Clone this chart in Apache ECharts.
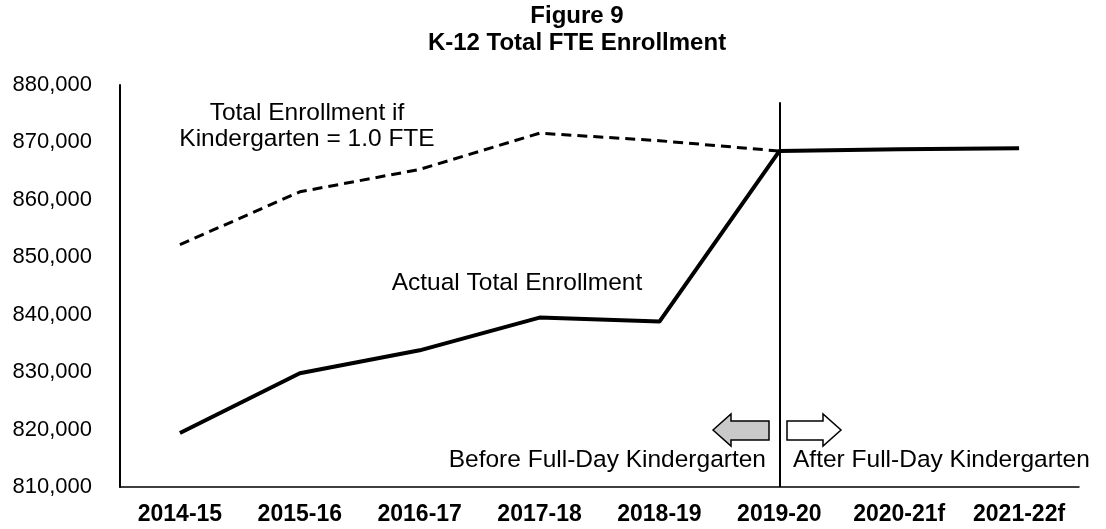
<!DOCTYPE html>
<html>
<head>
<meta charset="utf-8">
<script src="https://cdn.jsdelivr.net/npm/echarts@6/dist/echarts.min.js"></script>
<style>
    html, body { margin: 0; padding: 0; background: #fff; }
    #myChart { width: 1106px; height: 529px; }
</style>
</head>
<body>
<div id="myChart"></div>
<script>
// 学年
var categories = ['2014-15', '2015-16', '2016-17', '2017-18', '2018-19', '2019-20', '2020-21f', '2021-22f']
// 实际总人数 (FTE)
var actualTotal = [819400, 829800, 833800, 839500, 838800, 868500, 868800, 869000]
// 若幼儿园 = 1.0 FTE
var totalIfFullK = [852200, 861400, 865300, 871600, 870300, 868500, null, null]
// y 轴刻度
var yMin = 810000
var yMax = 880000
var yStep = 10000

var font = 'Liberation Sans, Arial, sans-serif'
var noteFont = '24.5px ' + font

// 文字注释
function note(text, x, y, align) {
    return {
        type: 'text',
        x: x,
        y: y,
        style: {
            text: text,
            font: noteFont,
            lineHeight: 26,
            fill: '#000',
            align: align,
            textAlign: align,
            verticalAlign: 'middle',
            textVerticalAlign: 'middle'
        }
    }
}

var myChart = echarts.init(document.getElementById('myChart'))
myChart.setOption({
    animation: false,
    title: {
        text: 'Figure 9\nK-12 Total FTE Enrollment',
        left: 577,
        textAlign: 'center',
        top: 3,
        padding: 0,
        textStyle: {
            fontFamily: font,
            fontWeight: 'bold',
            fontSize: 24,
            lineHeight: 27,
            color: '#000'
        }
    },
    grid: {
        left: 120,
        right: 27,
        top: 85,
        bottom: 42
    },
    xAxis: {
        type: 'category',
        data: categories,
        boundaryGap: true,
        axisTick: { show: false },
        axisLine: { lineStyle: { color: '#000', width: 1.5 } },
        axisLabel: {
            interval: 0,
            margin: 16,
            color: '#000',
            fontFamily: font,
            fontWeight: 'bold',
            fontSize: 23
        }
    },
    yAxis: {
        type: 'value',
        min: yMin,
        max: yMax,
        interval: yStep,
        splitLine: { show: false },
        axisTick: { show: false },
        axisLine: { show: true, lineStyle: { color: '#000', width: 2 } },
        axisLabel: {
            margin: 28,
            color: '#000',
            fontFamily: font,
            fontSize: 22,
            formatter: function (v) {
                return v.toLocaleString('en-US')
            }
        }
    },
    series: [
        {
            name: 'Total Enrollment if Kindergarten = 1.0 FTE',
            type: 'line',
            data: totalIfFullK,
            symbol: 'none',
            lineStyle: { color: '#000', width: 3, type: [10, 6] }
        },
        {
            name: 'Actual Total Enrollment',
            type: 'line',
            data: actualTotal,
            symbol: 'none',
            z: 3,
            lineStyle: { color: '#000', width: 4 },
            // 全日制幼儿园分界线
            markLine: {
                silent: true,
                symbol: 'none',
                label: { show: false },
                lineStyle: { color: '#000', width: 2, type: 'solid' },
                data: [[
                    { coord: ['2019-20', 877000] },
                    { coord: ['2019-20', yMin] }
                ]]
            }
        }
    ],
    graphic: [
        note('Total Enrollment if\nKindergarten = 1.0 FTE', 307, 126, 'center'),
        note('Actual Total Enrollment', 517, 283, 'center'),
        note('Before Full-Day Kindergarten', 766, 460, 'right'),
        note('After Full-Day Kindergarten', 793, 460, 'left'),
        // 左箭头 (灰色)
        {
            type: 'polygon',
            shape: {
                points: [[713, 430], [731, 414], [731, 421], [769, 421], [769, 440], [731, 440], [731, 446]]
            },
            style: { fill: '#c9c9c9', stroke: '#000', lineWidth: 1.5 }
        },
        // 右箭头 (白色)
        {
            type: 'polygon',
            shape: {
                points: [[787, 421], [823, 421], [823, 414], [841, 430], [823, 446], [823, 440], [787, 440]]
            },
            style: { fill: '#fff', stroke: '#000', lineWidth: 1.5 }
        }
    ]
})
</script>
</body>
</html>
